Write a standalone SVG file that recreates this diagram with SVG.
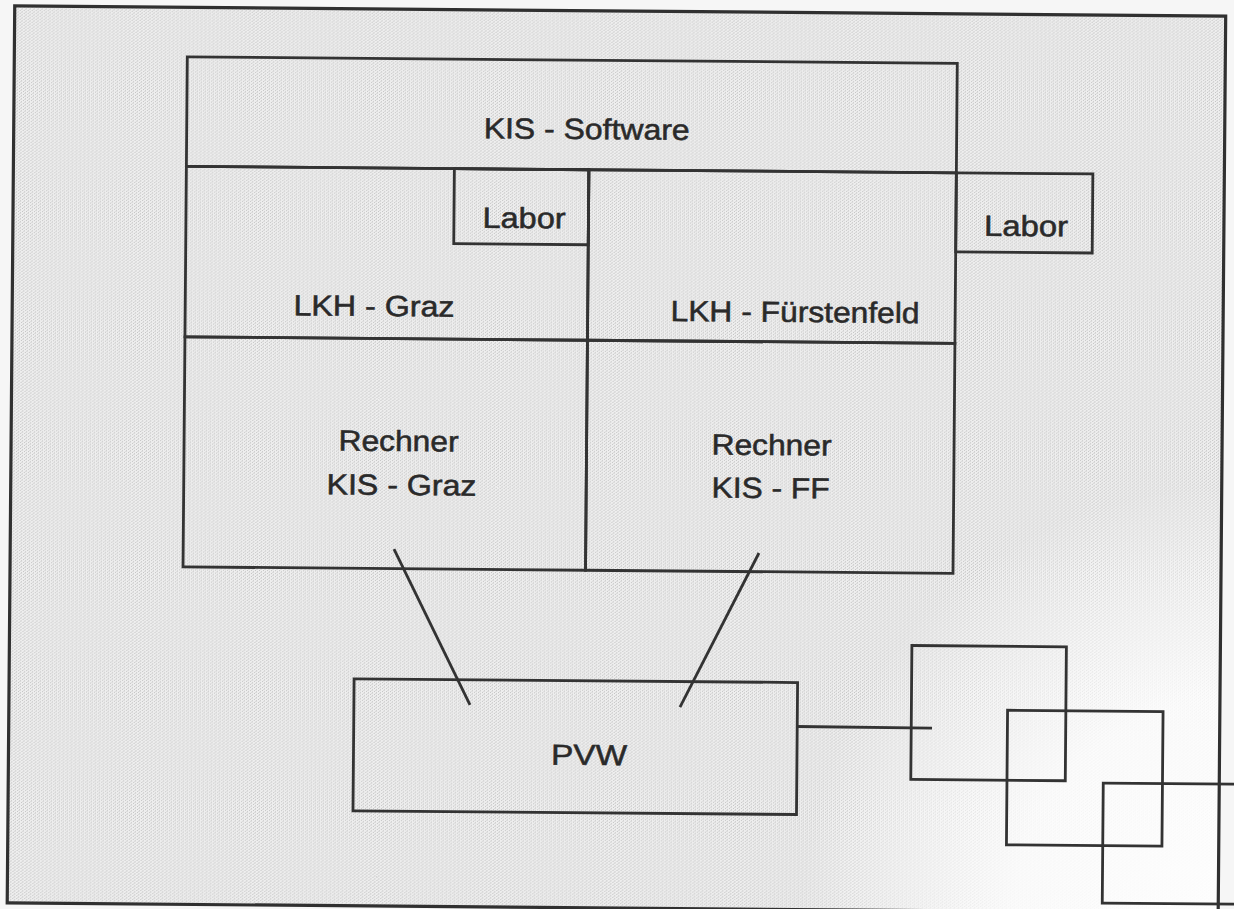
<svg xmlns="http://www.w3.org/2000/svg" width="1234" height="909" viewBox="0 0 1234 909">
<defs>
<pattern id="scan" width="4" height="3" patternUnits="userSpaceOnUse">
<rect width="4" height="3" fill="#eeeeee"/>
<rect x="0" y="0" width="1" height="1" fill="#c4c4c4"/>
<rect x="2" y="1" width="1" height="1" fill="#cdcdcd"/>
<rect x="1" y="2" width="2" height="1" fill="#dadada"/>
</pattern>
<radialGradient id="fade" cx="1234" cy="909" r="430" gradientUnits="userSpaceOnUse">
<stop offset="0" stop-color="#ffffff" stop-opacity="0.95"/>
<stop offset="0.5" stop-color="#ffffff" stop-opacity="0.8"/>
<stop offset="1" stop-color="#ffffff" stop-opacity="0"/>
</radialGradient>
</defs>
<style>
.ln{fill:none;stroke:#333333;stroke-width:2.8}
.fr{fill:none;stroke:#303030;stroke-width:3.2}
.t{font-family:"Liberation Sans",Arial,sans-serif;font-size:29px;fill:#2a2a2a;text-anchor:middle;stroke:#2a2a2a;stroke-width:0.55}
</style>
<rect width="1234" height="909" fill="#f6f6f6"/>
<g transform="rotate(0.48 617 454)">
<rect x="11" y="11" width="1211" height="897" fill="url(#scan)"/>
<rect x="11" y="11" width="1211" height="897" fill="url(#fade)"/>
<g id="frame"><rect class="fr" x="11" y="11" width="1211" height="897"/></g>

<g id="kis-software">
<rect class="ln" x="184" y="60.5" width="770" height="109.5"/>
<text class="t" x="584" y="139.3" textLength="206" lengthAdjust="spacingAndGlyphs">KIS - Software</text>
</g>
<g id="lkh-graz">
<rect class="ln" x="184" y="170" width="402.5" height="170.5"/>
<text class="t" x="372.8" y="318" textLength="161" lengthAdjust="spacingAndGlyphs">LKH - Graz</text>
</g>
<g id="labor-graz">
<rect class="ln" x="452" y="170" width="134.5" height="75"/>
<text class="t" x="522.1" y="228.8" textLength="83" lengthAdjust="spacingAndGlyphs">Labor</text>
</g>
<g id="lkh-fuerstenfeld">
<rect class="ln" x="586.5" y="170" width="367.5" height="170.5"/>
<text class="t" x="793.9" y="320.5" textLength="249" lengthAdjust="spacingAndGlyphs">LKH - Fürstenfeld</text>
</g>
<g id="labor-ff">
<rect class="ln" x="954" y="170" width="136.5" height="79"/>
<text class="t" x="1024.2" y="232.6" textLength="84" lengthAdjust="spacingAndGlyphs">Labor</text>
</g>
<g id="rechner-kis-graz">
<rect class="ln" x="184" y="340.5" width="402.5" height="230"/>
<text class="t" x="398.5" y="452.8" textLength="120" lengthAdjust="spacingAndGlyphs">Rechner</text>
<text class="t" x="401.8" y="496.8" textLength="150" lengthAdjust="spacingAndGlyphs">KIS - Graz</text>
</g>
<g id="rechner-kis-ff">
<rect class="ln" x="586.5" y="340.5" width="367.5" height="230"/>
<text class="t" x="771.5" y="453.7" textLength="120" lengthAdjust="spacingAndGlyphs">Rechner</text>
<text class="t" x="770.9" y="496.7" textLength="118" lengthAdjust="spacingAndGlyphs">KIS - FF</text>
</g>
<g id="pvw">
<rect class="ln" x="356" y="681" width="443.5" height="132"/>
<text class="t" x="591.6" y="765.2" textLength="76" lengthAdjust="spacingAndGlyphs">PVW</text>
</g>
<g id="square-1"><rect class="ln" x="913.5" y="643" width="154.5" height="134"/></g>
<g id="square-2"><rect class="ln" x="1009.7" y="707" width="155.5" height="134.5"/></g>
<g id="square-3"><rect class="ln" x="1106" y="779" width="160" height="120"/></g>

<g id="connectors">
<line class="ln" x1="394.8" y1="550.9" x2="472.1" y2="706.2"/>
<line class="ln" x1="759.8" y1="551.8" x2="682.1" y2="706.5"/>
<line class="ln" x1="799.5" y1="725" x2="934.3" y2="725.4"/>
</g>
</g>
</svg>
